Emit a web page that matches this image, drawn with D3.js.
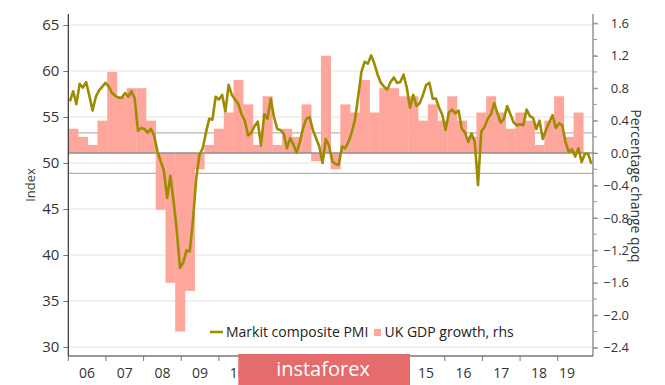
<!DOCTYPE html>
<html><head><meta charset="utf-8">
<script src="https://cdn.jsdelivr.net/npm/d3@7"></script>
<style>
html,body{margin:0;padding:0;background:#fff;}
svg{display:block;font-family:"Open Sans",sans-serif;}
</style></head>
<body><svg id="c" width="665" height="385"></svg>
<script>
// ---- data ----
const yearLabels = ["06","07","08","09","10","11","12","13","14","15","16","17","18","19"];
const leftTicks = [30,35,40,45,50,55,60,65];
const rightTicks = [-2.4,-2.0,-1.6,-1.2,-0.8,-0.4,0.0,0.4,0.8,1.2,1.6];
const refLines = [0.25,-0.25];
const startYear = 2006;
// UK GDP growth qoq, quarterly from 2006Q1
const gdp = [0.3,0.2,0.1,0.4, 1.0,0.7,0.8,0.8, 0.4,-0.7,-1.6,-2.2, -1.7,-0.2,0.1,0.3,
  0.5,0.9,0.6,0.1, 0.7,0.1,0.3,0.2, 0.6,-0.1,1.2,-0.2, 0.6,0.5,0.9,0.5,
  0.8,0.8,0.7,0.7, 0.4,0.6,0.4,0.7, 0.4,0.2,0.5,0.7, 0.5,0.3,0.5,0.4,
  0.1,0.4,0.7,0.2, 0.5];
// Markit composite PMI, monthly from Jan 2006
const pmi = [56.7,57.8,56.4,58.6,58.2,58.8,57.3,55.7,57.2,57.9,58.3,58.7,
  58.3,57.6,57.3,57.1,57.1,57.6,57.2,57.8,57.0,53.5,53.8,53.7,
  53.3,53.7,53.0,51.3,50.2,49.2,46.2,48.6,45.9,42.6,38.6,39.2,
  40.5,40.4,43.8,48.3,50.9,51.6,53.3,54.8,54.7,57.2,56.9,57.4,
  55.6,58.5,57.4,56.9,56.4,55.3,54.6,53.0,53.3,54.0,54.5,51.9,
  55.3,54.8,57.0,55.0,53.7,53.6,53.2,51.6,52.7,52.0,51.1,52.3,
  53.8,54.8,55.0,53.6,52.7,51.8,50.0,52.6,51.9,50.2,49.9,49.8,
  51.8,51.6,52.3,53.3,54.7,57.2,59.9,61.0,60.8,61.7,60.8,59.6,
  58.7,58.3,58.0,58.8,59.3,58.7,58.8,59.6,58.2,56.0,57.4,56.2,
  56.5,57.4,58.5,58.7,57.0,57.0,56.0,55.2,53.6,55.5,55.8,55.4,
  55.7,53.7,53.3,52.3,53.2,52.3,47.6,53.4,53.9,54.8,55.3,56.5,
  55.4,54.4,54.8,56.2,55.3,54.4,54.1,54.2,54.1,55.8,55.1,54.9,
  53.7,54.6,52.6,53.6,54.4,55.2,53.8,54.3,54.1,52.3,51.2,51.5,
  50.7,51.6,50.1,51.0,51.0,49.9];

// ---- layout ----
const L = 68.3, R = 593, T = 14, B = 356;
const svg = d3.select("#c");

const x = d3.scaleLinear().domain([startYear, startYear + 13.5]).range([L, R]);
const yL = d3.scaleLinear().domain([30, 65]).range([347, 25]);
const yR = d3.scaleLinear().domain([-2.4, 1.6]).range([347.7, 23.3]);
const xTick = d3.scaleLinear().domain([0, 14]).range([L, L + 14 * 37.65]);

// gridlines
svg.append("g").selectAll("line").data(leftTicks).join("line")
  .attr("x1", L).attr("x2", R).attr("y1", d => yL(d)).attr("y2", d => yL(d))
  .attr("stroke", "#e4e4e4").attr("stroke-width", 1.2);

// reference lines
svg.append("g").selectAll("line").data(refLines).join("line")
  .attr("x1", L).attr("x2", R).attr("y1", d => yR(d)).attr("y2", d => yR(d))
  .attr("stroke", "#b4b4b4").attr("stroke-width", 1.3);

// bars
svg.append("g").selectAll("rect").data(gdp).join("rect")
  .attr("x", (d, i) => x(startYear + i / 4))
  .attr("width", (d, i) => x(startYear + (i + 1) / 4) - x(startYear + i / 4) + 0.3)
  .attr("y", d => yR(Math.max(0, d)))
  .attr("height", d => Math.abs(yR(d) - yR(0)))
  .attr("fill", "#ffa69c");

// zero line
svg.append("line").attr("x1", L).attr("x2", R).attr("y1", yR(0)).attr("y2", yR(0))
  .attr("stroke", "#8f8f8f").attr("stroke-width", 1.4);

// PMI line
const line = d3.line().x((d, i) => x(startYear + (i + 0.5) / 12)).y(d => yL(d));
svg.append("path").datum(pmi).attr("d", line)
  .attr("fill", "none").attr("stroke", "#9d8b00").attr("stroke-width", 2.6)
  .attr("stroke-linejoin", "round");

// left axis
const gl = svg.append("g").attr("transform", `translate(${L},0)`);
gl.call(d3.axisLeft(yL).tickValues(leftTicks).tickSize(5).tickPadding(4));
gl.select(".domain").remove();
gl.append("line").attr("x1", 0).attr("x2", 0).attr("y1", T).attr("y2", B).attr("stroke", "#333").attr("stroke-width", 1.2);
gl.selectAll(".tick line").attr("stroke", "#777");
gl.selectAll(".tick text").attr("font-size", 15).attr("fill", "#333").attr("font-family", "Open Sans");

// right axis
const gr = svg.append("g").attr("transform", `translate(${R},0)`);
gr.call(d3.axisRight(yR).tickValues(rightTicks).tickSize(5).tickPadding(0).tickFormat(d3.format(".1f")));
gr.select(".domain").remove();
gr.append("line").attr("x1", 0).attr("x2", 0).attr("y1", T).attr("y2", B).attr("stroke", "#777").attr("stroke-width", 1.2);
gr.selectAll(".tick line").attr("stroke", "#888");
gr.selectAll(".tick text").attr("font-size", 13).attr("fill", "#333").attr("font-family", "Open Sans")
  .attr("text-anchor", "end").attr("x", 36);
// minor ticks
gr.append("g").selectAll("line").data(d3.range(-24, 17, 2).map(v => v / 10)).join("line")
  .attr("x1", 0).attr("x2", 4).attr("y1", d => yR(d)).attr("y2", d => yR(d)).attr("stroke", "#999");

// bottom axis
const gb = svg.append("g").attr("transform", `translate(0,${B})`);
gb.append("line").attr("x1", L).attr("x2", R).attr("y1", 0).attr("y2", 0).attr("stroke", "#333").attr("stroke-width", 1.2);
gb.selectAll("line.t").data(d3.range(14)).join("line").attr("class", "t")
  .attr("x1", d => xTick(d)).attr("x2", d => xTick(d)).attr("y1", 0).attr("y2", 5)
  .attr("stroke", "#777");
gb.selectAll("text").data(yearLabels).join("text")
  .attr("x", (d, i) => Math.min(xTick(i + 0.5), R - 26))
  .attr("y", 22).attr("text-anchor", "middle").attr("font-size", 14).attr("fill", "#333")
  .text(d => d);

// axis titles
svg.append("text").attr("transform", "translate(35,185) rotate(-90)")
  .attr("text-anchor", "middle").attr("font-size", 13).attr("fill", "#444").text("Index");
svg.append("text").attr("transform", "translate(631,186) rotate(90)")
  .attr("text-anchor", "middle").attr("font-size", 14).attr("fill", "#333").text("Percentage change qoq");

// legend
const lg = svg.append("g");
lg.append("line").attr("x1", 210).attr("x2", 223).attr("y1", 332).attr("y2", 332)
  .attr("stroke", "#9d8b00").attr("stroke-width", 2.6);
lg.append("text").attr("x", 226).attr("y", 337).attr("font-size", 14).attr("fill", "#222").text("Markit composite PMI");
lg.append("rect").attr("x", 374).attr("y", 329).attr("width", 7).attr("height", 7).attr("fill", "#ffa69c");
lg.append("text").attr("x", 384.5).attr("y", 337).attr("font-size", 14).attr("fill", "#222").text("UK GDP growth, rhs");

// watermark
svg.append("rect").attr("x", 238.3).attr("y", 354).attr("width", 171.7).attr("height", 31).attr("fill", "#e46c6c");
svg.append("text").attr("x", 323).attr("y", 376).attr("text-anchor", "middle")
  .attr("font-size", 20).attr("fill", "#fff").attr("font-family", "Open Sans").text("instaforex");
</script></body></html>
